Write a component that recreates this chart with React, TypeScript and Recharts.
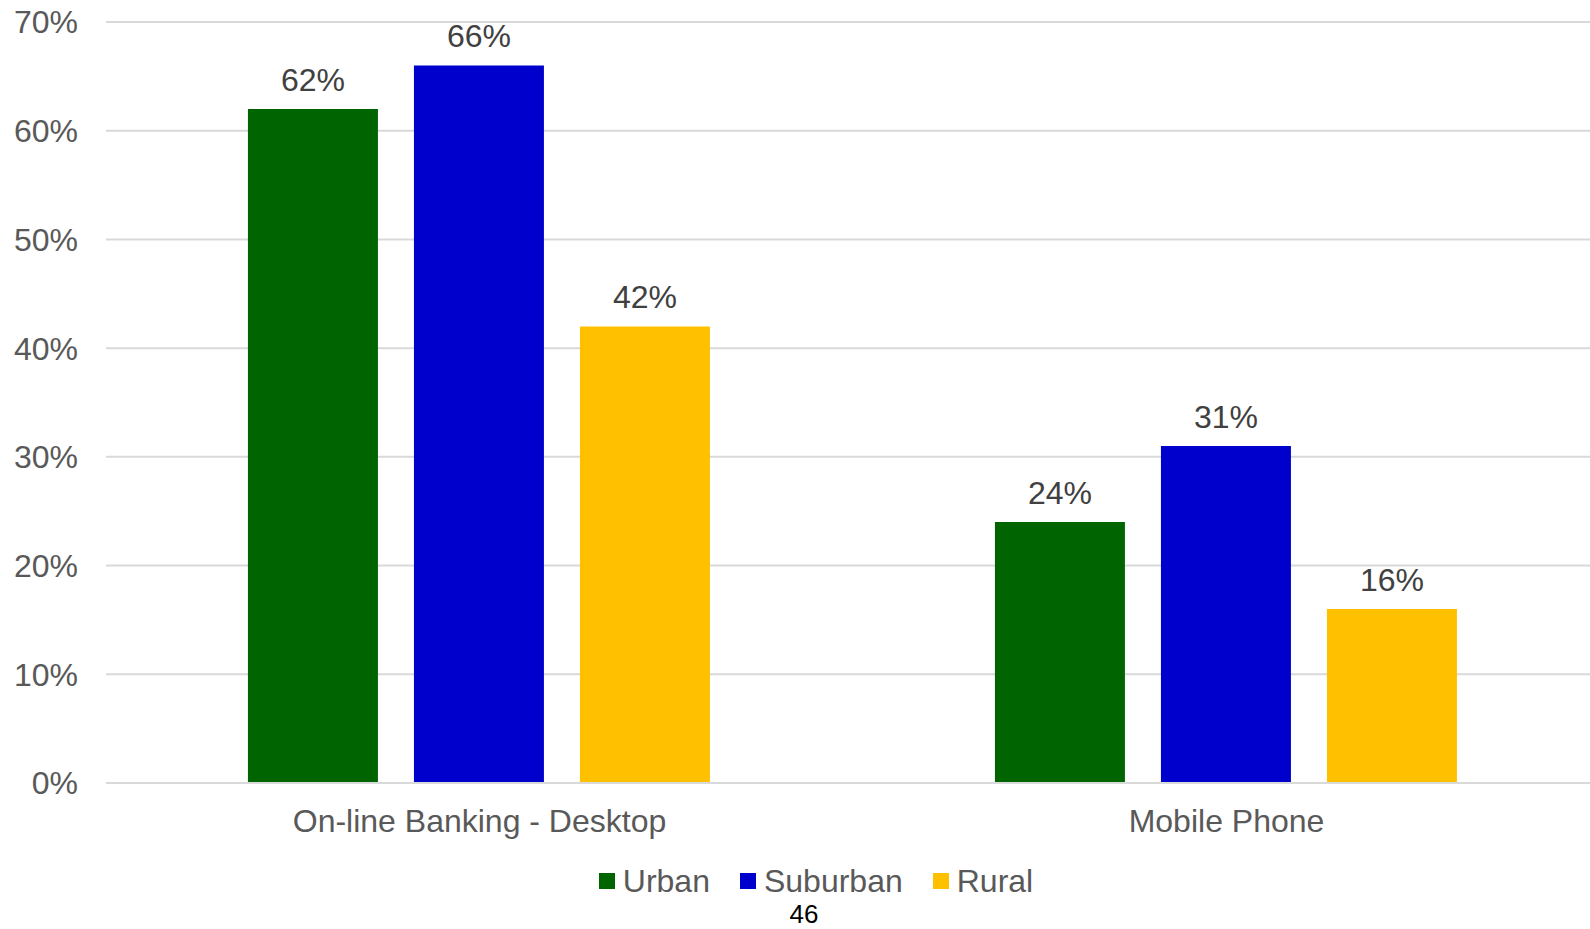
import { FC } from 'react';
import {
  Bar,
  BarChart,
  CartesianGrid,
  LabelList,
  Legend,
  XAxis,
  YAxis,
} from 'recharts';

const categories = ['On-line Banking - Desktop', 'Mobile Phone'];
const urban = [62, 24];
const suburban = [66, 31];
const rural = [42, 16];
const yTicks = [0, 10, 20, 30, 40, 50, 60, 70];

const series = [
  { key: 'urban', name: 'Urban', color: '#006400' },
  { key: 'suburban', name: 'Suburban', color: '#0000CC' },
  { key: 'rural', name: 'Rural', color: '#FFC000' },
];

const data = categories.map((name, i) => ({
  name,
  urban: urban[i],
  suburban: suburban[i],
  rural: rural[i],
}));

const font = '"Liberation Sans", Arial, sans-serif';

// legend drawn by hand so the squares and spacing look like the original
const LegendContent: FC = () => (
  <div
    style={{
      position: 'relative',
      top: 20,
      left: 16,
      display: 'flex',
      justifyContent: 'center',
      alignItems: 'center',
      fontFamily: font,
      fontSize: 32,
      lineHeight: '32px',
      color: '#595959',
      height: 36,
    }}
  >
    {series.map((s) => (
      <span
        key={s.key}
        style={{ display: 'flex', alignItems: 'center', margin: '0 15px' }}
      >
        <span
          style={{
            display: 'inline-block',
            width: 16,
            height: 16,
            background: s.color,
            marginRight: 8,
          }}
        />
        {s.name}
      </span>
    ))}
  </div>
);

const App: FC = () => {
  return (
    <div
      style={{
        position: 'fixed',
        top: 0,
        left: 0,
        width: 1590,
        height: 929,
        overflow: 'hidden',
        background: '#fff',
      }}
    >
      <BarChart
        width={1602}
        height={929}
        data={data}
        margin={{ top: 22, right: 2, left: 0, bottom: 50 }}
        barCategoryGap="19%"
        barGap={36}
      >
        <CartesianGrid vertical={false} stroke="#d9d9d9" strokeWidth={2} />
        <XAxis
          dataKey="name"
          tickLine={false}
          axisLine={{ stroke: '#d9d9d9', strokeWidth: 2 }}
          height={60}
          tickMargin={20}
          tick={{ fill: '#595959', fontSize: 32, fontFamily: font }}
        />
        <YAxis
          domain={[0, 70]}
          ticks={yTicks}
          width={106}
          axisLine={false}
          tickLine={false}
          tickMargin={22}
          tickFormatter={(v: number) => `${v}%`}
          tick={{ fill: '#595959', fontSize: 32, fontFamily: font }}
        />
        <Legend verticalAlign="bottom" content={<LegendContent />} />
        {series.map((s) => (
          <Bar
            key={s.key}
            dataKey={s.key}
            name={s.name}
            fill={s.color}
            isAnimationActive={false}
          >
            <LabelList
              dataKey={s.key}
              position="top"
              offset={18}
              formatter={(v: number) => `${v}%`}
              style={{ fill: '#404040', fontSize: 32, fontFamily: font }}
            />
          </Bar>
        ))}
      </BarChart>
      <div
        style={{
          position: 'absolute',
          top: 901,
          left: 0,
          width: 1608,
          textAlign: 'center',
          fontFamily: font,
          fontSize: 26,
          lineHeight: '26px',
          color: '#000',
        }}
      >
        46
      </div>
    </div>
  );
};

export default App;
